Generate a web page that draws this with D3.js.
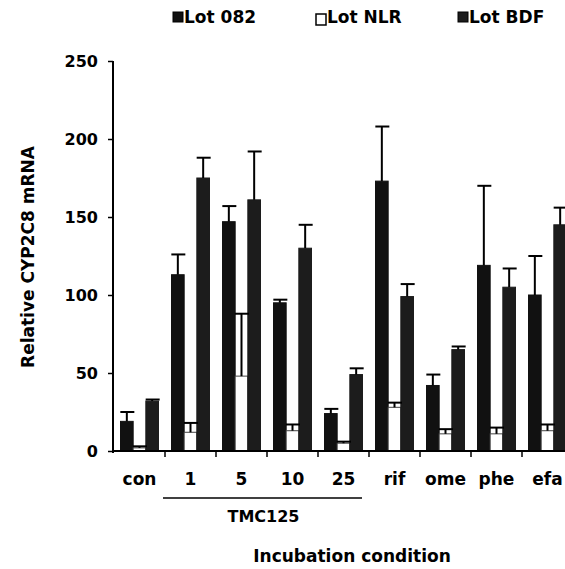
<!DOCTYPE html>
<html>
<head>
<meta charset="utf-8">
<script src="https://cdn.jsdelivr.net/npm/d3@7"></script>
<style>
  html, body { margin: 0; padding: 0; background: #fff; }
  svg { display: block; }
  text { font-family: "DejaVu Sans", sans-serif; font-weight: bold; fill: #000; }
</style>
</head>
<body>
<div id="chart"></div>
<script>
// 数据
const categories = ["con", "1", "5", "10", "25", "rif", "ome", "phe", "efa"];
const lots = ["Lot 082", "Lot NLR", "Lot BDF"];
const lot082 = [19, 113, 147, 95, 24, 173, 42, 119, 100];
const lot082Err = [6, 13, 10, 2, 3, 35, 7, 51, 25];
const lotNLR = [2, 12, 48, 13, 5, 28, 11, 11, 13];
const lotNLRErr = [1, 6, 40, 4, 1, 3, 3, 4, 4];
const lotBDF = [32, 175, 161, 130, 49, 99, 65, 105, 145];
const lotBDFErr = [1, 13, 31, 15, 4, 8, 2, 12, 11];
const yTicks = [0, 50, 100, 150, 200, 250];
const tmcGroup = ["1", "5", "10", "25"];

const width = 565, height = 569;
const series = [
  { name: lots[0], values: lot082, err: lot082Err, fill: "#111", stroke: "#111" },
  { name: lots[1], values: lotNLR, err: lotNLRErr, fill: "#fff", stroke: "#444" },
  { name: lots[2], values: lotBDF, err: lotBDFErr, fill: "#1c1c1c", stroke: "#1c1c1c" }
];

const svg = d3.select("#chart").append("svg")
  .attr("width", width)
  .attr("height", height);

// 比例尺
const x0 = d3.scaleBand().domain(categories).range([114, 114 + 51 * categories.length]);
const x1 = d3.scaleBand().domain(lots).range([6.5, 44.5]);
const y = d3.scaleLinear().domain([0, 250]).range([451, 61]);

// 柱子
const rows = [];
series.forEach(s => {
  categories.forEach((c, i) => {
    rows.push({ cat: c, lot: s.name, v: s.values[i], e: s.err[i], fill: s.fill, stroke: s.stroke });
  });
});

svg.append("g").selectAll("rect")
  .data(rows)
  .join("rect")
  .attr("x", d => x0(d.cat) + x1(d.lot))
  .attr("y", d => y(d.v))
  .attr("width", x1.bandwidth())
  .attr("height", d => y(0) - y(d.v))
  .attr("fill", d => d.fill)
  .attr("stroke", d => d.stroke)
  .attr("stroke-width", 1);

// 误差线 (只向上)
const eb = svg.append("g").attr("stroke", "#000").attr("stroke-width", 2);
rows.forEach(d => {
  const cx = x0(d.cat) + x1(d.lot) + x1.bandwidth() / 2;
  eb.append("line")
    .attr("x1", cx).attr("x2", cx)
    .attr("y1", y(d.v)).attr("y2", y(d.v + d.e));
  eb.append("line")
    .attr("x1", cx - 6.5).attr("x2", cx + 7.5)
    .attr("y1", y(d.v + d.e)).attr("y2", y(d.v + d.e));
});

// y 轴
const yAxis = svg.append("g").attr("transform", "translate(113,0)")
  .call(d3.axisLeft(y).tickValues(yTicks).tickSize(5).tickPadding(10));
yAxis.select(".domain").attr("stroke-width", 2).attr("d", `M0,${y(250)}V${y(0) + 2}`);
yAxis.selectAll(".tick line").attr("stroke-width", 1.5);
yAxis.selectAll("text").attr("font-size", 16).attr("font-family", "DejaVu Sans").attr("font-weight", "bold");

// x 轴
const xAxis = svg.append("g").attr("transform", `translate(0,${y(0)})`);
xAxis.append("line")
  .attr("x1", 112).attr("x2", width)
  .attr("stroke", "#000").attr("stroke-width", 2);
xAxis.selectAll(".xtick")
  .data(categories.slice(1))
  .join("line")
  .attr("x1", d => x0(d)).attr("x2", d => x0(d))
  .attr("y1", 0).attr("y2", 6)
  .attr("stroke", "#000").attr("stroke-width", 1.5);
xAxis.selectAll(".xlabel")
  .data(categories)
  .join("text")
  .attr("x", d => x0(d) + x0.bandwidth() / 2)
  .attr("y", 34)
  .attr("text-anchor", "middle")
  .attr("font-size", 17)
  .text(d => d);

// TMC125 分组线
const tmcX0 = x0(tmcGroup[0]) - 2;
const tmcX1 = x0(tmcGroup[tmcGroup.length - 1]) + x0.bandwidth() - 7;
svg.append("line")
  .attr("x1", tmcX0).attr("x2", tmcX1)
  .attr("y1", 498).attr("y2", 498)
  .attr("stroke", "#000").attr("stroke-width", 1.5);
svg.append("text")
  .attr("x", (tmcX0 + tmcX1) / 2 + 1)
  .attr("y", 522)
  .attr("text-anchor", "middle")
  .attr("font-size", 16)
  .text("TMC125");

// 轴标题
svg.append("text")
  .attr("x", 352)
  .attr("y", 562)
  .attr("text-anchor", "middle")
  .attr("font-size", 17)
  .text("Incubation condition");

svg.append("text")
  .attr("transform", "translate(34,257) rotate(-90)")
  .attr("text-anchor", "middle")
  .attr("font-size", 17)
  .text("Relative CYP2C8 mRNA");

// 图例
const legendX = [173, 316, 458];
const legend = svg.append("g").selectAll("g")
  .data(series)
  .join("g")
  .attr("transform", (d, i) => `translate(${legendX[i]},0)`);
legend.append("rect")
  .attr("x", 0).attr("y", (d, i) => i === 1 ? 14 : 12)
  .attr("width", 10).attr("height", (d, i) => i === 1 ? 11 : 10)
  .attr("fill", d => d.fill)
  .attr("stroke", "#000")
  .attr("stroke-width", (d, i) => i === 1 ? 1.5 : 1);
legend.append("text")
  .attr("x", 11)
  .attr("y", 23)
  .attr("font-size", 17)
  .text(d => d.name);
</script>
</body>
</html>
